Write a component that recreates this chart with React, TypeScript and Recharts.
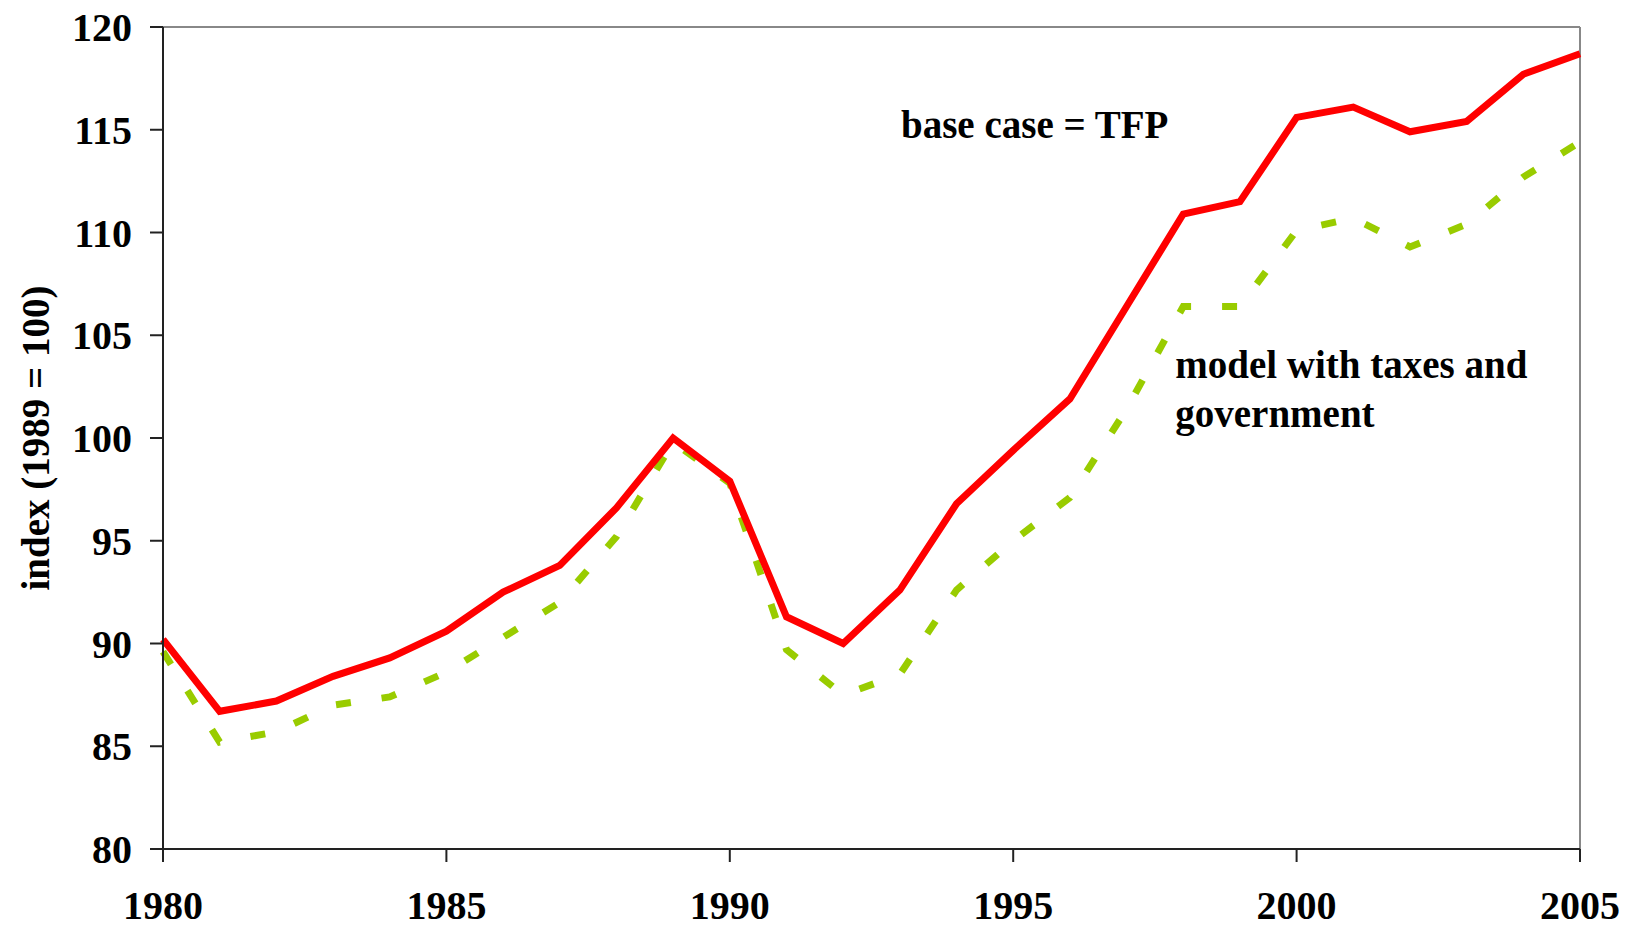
import { LineChart, Line, XAxis, YAxis, ReferenceLine, ReferenceDot } from "recharts"

const years = [
  1980, 1981, 1982, 1983, 1984, 1985, 1986, 1987, 1988, 1989, 1990, 1991, 1992,
  1993, 1994, 1995, 1996, 1997, 1998, 1999, 2000, 2001, 2002, 2003, 2004, 2005,
]
const baseCase = [
  90.2, 86.7, 87.2, 88.4, 89.3, 90.6, 92.5, 93.8, 96.6, 100.0, 97.9, 91.3, 90.0,
  92.6, 96.8, 99.4, 101.9, 106.4, 110.9, 111.5, 115.6, 116.1, 114.9, 115.4, 117.7, 118.7,
]
const taxModel = [
  89.6, 85.2, 85.7, 87.0, 87.4, 88.6, 90.3, 92.0, 95.2, 99.8, 97.8, 89.7, 87.5,
  88.5, 92.6, 95.0, 97.1, 101.4, 106.4, 106.4, 110.1, 110.7, 109.3, 110.4, 112.7, 114.4,
]
const xTicks = [1980, 1985, 1990, 1995, 2000, 2005]
const yTicks = [80, 85, 90, 95, 100, 105, 110, 115, 120]

const data = years.map((y, i) => ({ year: y, base: baseCase[i], tax: taxModel[i] }))

const font = '"Liberation Serif", "Times New Roman", serif'

function baseLabel(props: any) {
  const { x, y } = props.viewBox
  return (
    <text x={x} y={y} dy="0.34em" fontFamily={font} fontWeight="bold" fontSize={39} fill="#000">
      base case = TFP
    </text>
  )
}

function taxLabel(props: any) {
  const { x, y } = props.viewBox
  return (
    <text x={x} y={y} fontFamily={font} fontWeight="bold" fontSize={39} fill="#000">
      <tspan x={x} dy="0.34em">model with taxes and</tspan>
      <tspan x={x} dy="49">government</tspan>
    </text>
  )
}

function yLabel(props: any) {
  const { x, y, height } = props.viewBox
  const cx = x + 36
  const cy = y + height / 2
  return (
    <text
      x={cx}
      y={cy}
      transform={`rotate(-90, ${cx}, ${cy})`}
      textAnchor="middle"
      dy="0.34em"
      fontFamily={font}
      fontWeight="bold"
      fontSize={39}
      fill="#000"
    >
      index (1989 = 100)
    </text>
  )
}

export default function App() {
  const tickStyle = { fontFamily: font, fontWeight: "bold", fontSize: 40, fill: "#000" }
  return (
    <div style={{ position: "absolute", left: 0, top: 0, background: "#fff" }}>
      <LineChart width={1631} height={927} data={data} margin={{ top: 27, right: 51, left: 0, bottom: 0 }}>
        <XAxis
          dataKey="year"
          type="number"
          domain={[1980, 2005]}
          ticks={xTicks}
          height={78}
          tickSize={13}
          tickMargin={29}
          tick={tickStyle}
          stroke="#222"
          strokeWidth={2}
          interval={0}
        />
        <YAxis
          type="number"
          domain={[80, 120]}
          ticks={yTicks}
          width={163}
          tickSize={13}
          tickMargin={18}
          tick={tickStyle}
          stroke="#222"
          strokeWidth={2}
          interval={0}
          label={{ content: yLabel }}
        />
        <ReferenceLine y={120} stroke="#888" strokeWidth={2} />
        <ReferenceLine x={2005} stroke="#888" strokeWidth={2} />
        <Line
          dataKey="tax"
          stroke="#99CC00"
          strokeWidth={7}
          strokeDasharray="15 31"
          dot={false}
          isAnimationActive={false}
        />
        <Line dataKey="base" stroke="#FF0000" strokeWidth={7} dot={false} isAnimationActive={false} />
        <ReferenceDot x={1993.02} y={115.25} r={0} stroke="none" fill="none" label={{ content: baseLabel }} />
        <ReferenceDot x={1997.86} y={103.55} r={0} stroke="none" fill="none" label={{ content: taxLabel }} />
      </LineChart>
    </div>
  )
}
